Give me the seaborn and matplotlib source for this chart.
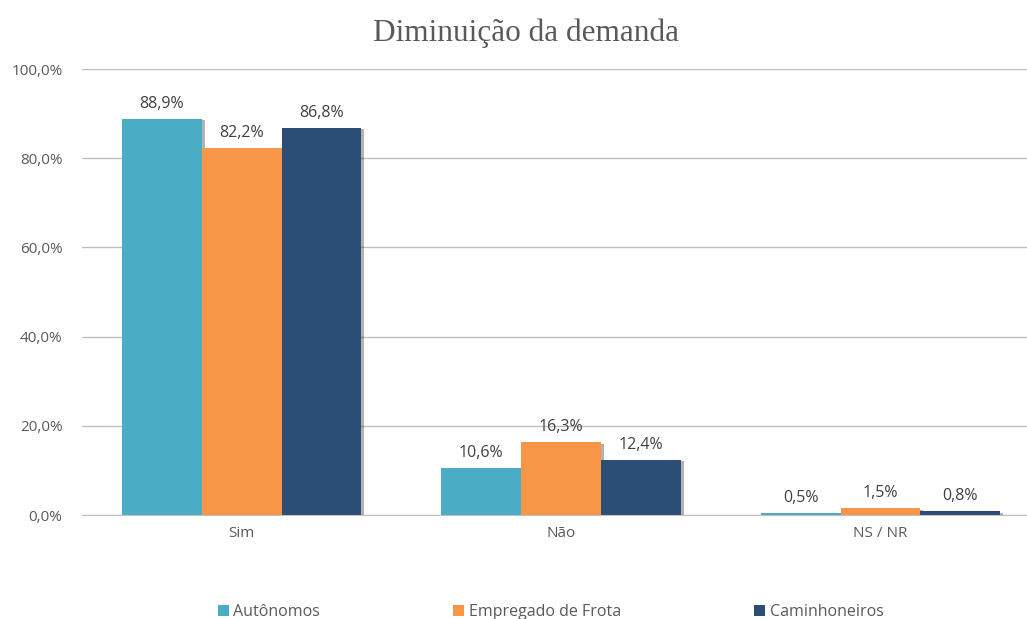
import pandas as pd
import matplotlib
matplotlib.use("Agg")
import matplotlib.pyplot as plt
import matplotlib.patheffects as pe
from matplotlib.patches import Patch
import seaborn as sns

categories = ["Sim", "Não", "NS / NR"]
autonomos = [88.9, 10.6, 0.5]
empregado = [82.2, 16.3, 1.5]
caminhoneiros = [86.8, 12.4, 0.8]
series_names = ["Autônomos", "Empregado de Frota", "Caminhoneiros"]
colors = ["#4BACC6", "#F79646", "#2C4D75"]
yticks = [0, 20, 40, 60, 80, 100]

df = pd.DataFrame({
    "cat": categories * 3,
    "serie": [s for s in series_names for _ in categories],
    "val": autonomos + empregado + caminhoneiros,
})

sns.set_style("white")
plt.rcParams["font.family"] = ["Open Sans", "DejaVu Sans"]

fig = plt.figure(figsize=(10.27, 6.19), dpi=100)
ax = fig.add_axes([0.0798, 0.168, 0.933, 0.7205])

sns.barplot(data=df, x="cat", y="val", hue="serie", order=categories,
            hue_order=series_names, palette=colors, width=0.75,
            saturation=1, linewidth=0, ax=ax, legend=False)

# light drop shadow like the Excel original
for bar in ax.patches:
    bar.set_path_effects([pe.SimplePatchShadow(offset=(2, -1), shadow_rgbFace="#000000", alpha=0.3),
                          pe.Normal()])

for cont in ax.containers:
    ax.bar_label(cont, labels=[f"{v:.1f}%".replace(".", ",") for v in cont.datavalues],
                 padding=5, fontsize=11.5, color="#404040")

ax.set_ylim(0, 100)
ax.set_xlim(-0.5, 2.5)
ax.set_yticks(yticks)
ax.set_yticklabels([f"{v:.1f}%".replace(".", ",") for v in yticks], fontsize=11, color="#595959")
ax.tick_params(axis="x", labelsize=11, labelcolor="#595959", length=0, pad=8)
ax.tick_params(axis="y", length=0, pad=14)
ax.set_xlabel("")
ax.set_ylabel("")
ax.yaxis.grid(True, color="#BFBFBF", linewidth=1)
ax.set_axisbelow(True)
for s in ["top", "right", "left"]:
    ax.spines[s].set_visible(False)
ax.spines["bottom"].set_color("#BFBFBF")

fig.text(0.512, 0.947, "Diminuição da demanda", ha="center", va="center",
         fontsize=22.5, color="#595959", family=["Liberation Serif", "DejaVu Serif"])

handles = [Patch(facecolor=c, edgecolor="none") for c in colors]
fig.legend(handles, series_names, loc="lower center", bbox_to_anchor=(0.536, -0.025), ncol=3,
           frameon=False, fontsize=11.5, handlelength=0.7, handleheight=0.7,
           handletextpad=0.3, columnspacing=8.3, labelcolor="#595959")

fig.savefig("out.png", dpi=100)
